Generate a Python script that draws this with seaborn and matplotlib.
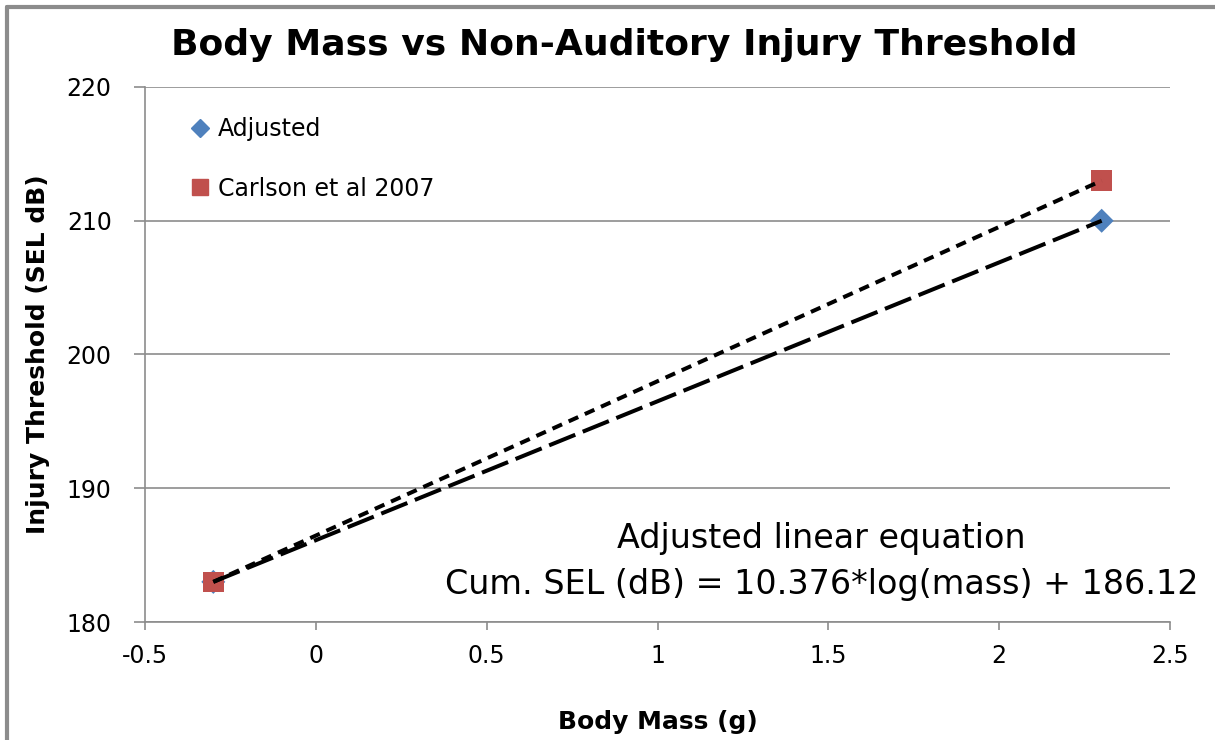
import numpy as np
import pandas as pd
import matplotlib
matplotlib.use("Agg")
import matplotlib.pyplot as plt
import seaborn as sns
from matplotlib.lines import Line2D
from matplotlib.ticker import FormatStrFormatter

# data
series = ["Adjusted", "Adjusted", "Carlson et al 2007", "Carlson et al 2007"]
body_mass = [-0.3, 2.3, -0.3, 2.3]
threshold = [183, 210, 183, 213]

x_ticks = [-0.5, 0, 0.5, 1, 1.5, 2, 2.5]
y_ticks = [180, 190, 200, 210, 220]

df = pd.DataFrame({"Series": series, "Body Mass": body_mass, "Threshold": threshold})

sns.set_style("white")
plt.rcParams["font.family"] = ["DejaVu Sans"]
plt.rcParams["text.color"] = "black"
plt.rcParams["axes.labelcolor"] = "black"
plt.rcParams["xtick.labelcolor"] = "black"
plt.rcParams["ytick.labelcolor"] = "black"

blue = "#4F81BD"
red = "#C0504D"
grid = "#8C8C8C"
narrow = ["Liberation Sans Narrow", "DejaVu Sans"]

fig = plt.figure(figsize=(12.15, 7.4), dpi=100)
ax = fig.add_axes([145 / 1215, 1 - 622 / 740, 1025 / 1215, 535 / 740])

sns.scatterplot(data=df, x="Body Mass", y="Threshold", hue="Series", style="Series",
                markers={"Adjusted": "D", "Carlson et al 2007": "s"},
                palette={"Adjusted": blue, "Carlson et al 2007": red},
                size="Series", sizes={"Adjusted": 150, "Carlson et al 2007": 215},
                edgecolor="none", ax=ax, legend=False, zorder=3)

# trendlines (dashed black), drawn on top of markers
adj = df[df["Series"] == "Adjusted"]
car = df[df["Series"] == "Carlson et al 2007"]
ax.plot(car["Body Mass"], car["Threshold"], color="black", lw=2.9,
        dashes=(2.6, 1.8), zorder=4)
ax.plot(adj["Body Mass"], adj["Threshold"], color="black", lw=2.9,
        dashes=(7, 2), zorder=4)

ax.set_xlim(-0.5, 2.5)
ax.set_ylim(180, 220)
ax.set_xticks(x_ticks)
ax.set_yticks(y_ticks)
ax.xaxis.set_major_formatter(FormatStrFormatter("%g"))
ax.yaxis.grid(True, color=grid, lw=1.2)
ax.set_axisbelow(True)

for side in ["top", "right"]:
    ax.spines[side].set_visible(False)
for side in ["left", "bottom"]:
    ax.spines[side].set_color(grid)
    ax.spines[side].set_linewidth(1.2)

ax.tick_params(axis="x", direction="out", length=6, width=1.2, color=grid,
               pad=10, labelsize=17, bottom=True)
ax.tick_params(axis="y", direction="out", length=8, width=1.2, color=grid,
               pad=16, labelsize=17, left=True)
for lab in ax.get_xticklabels() + ax.get_yticklabels():
    lab.set_family(narrow)

ax.set_xlabel("Body Mass (g)", fontsize=18, fontweight="bold", labelpad=30)
ax.set_ylabel("Injury Threshold (SEL dB)", fontsize=18, fontweight="bold", labelpad=12)
fig.text(624 / 1215, 1 - 45 / 740, "Body Mass vs Non-Auditory Injury Threshold",
         fontsize=26, fontweight="bold", ha="center", va="center")

handles = [
    Line2D([], [], ls="none", marker="D", ms=9, color=blue, label="Adjusted"),
    Line2D([], [], ls="none", marker="s", ms=11, color=red, label="Carlson et al 2007"),
]
ax.legend(handles=handles, loc="upper left", bbox_to_anchor=(0.019, 0.983),
          frameon=False, fontsize=17, labelspacing=1.5, handletextpad=0.15,
          handlelength=1.2)

ax.text(0.66, 0.157, "Adjusted linear equation", transform=ax.transAxes,
        ha="center", va="center", fontsize=24)
ax.text(0.66, 0.07, "Cum. SEL (dB) = 10.376*log(mass) + 186.12",
        transform=ax.transAxes, ha="center", va="center", fontsize=24,
        clip_on=False)

# gray chart border (top and left visible)
fig.add_artist(Line2D([7 / 1215, 1], [1 - 7 / 740, 1 - 7 / 740],
                      transform=fig.transFigure, color="#8C8C8C", lw=3))
fig.add_artist(Line2D([7 / 1215, 7 / 1215], [0, 1 - 7 / 740],
                      transform=fig.transFigure, color="#8C8C8C", lw=3))

fig.savefig("out.png", dpi=100)
